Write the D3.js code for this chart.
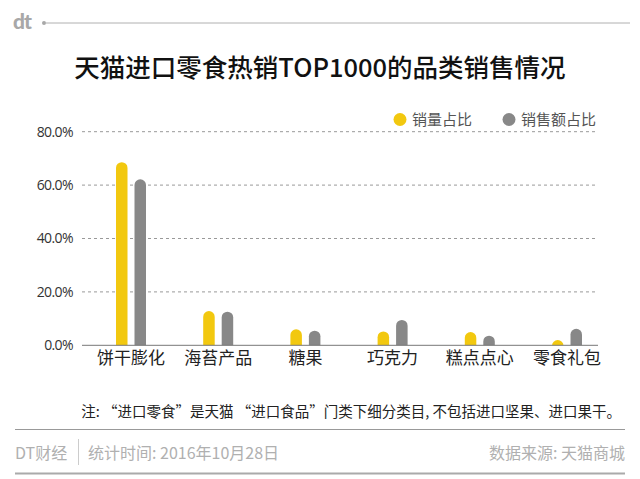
<!DOCTYPE html>
<html><head><meta charset="utf-8">
<script src="https://cdn.jsdelivr.net/npm/d3@7"></script>
<style>
html,body{margin:0;padding:0;background:#fff;}
svg{display:block;font-family:"Noto Sans CJK SC","Noto Sans",sans-serif;}
</style></head>
<body>
<svg id="c" width="640" height="479"></svg>
<script>
const categories = ["饼干膨化","海苔产品","糖果","巧克力","糕点点心","零食礼包"];
const seriesNames = ["销量占比","销售额占比"];
const salesVolume = [68.6, 12.8, 6.0, 5.2, 5.0, 2.0];
const salesAmount = [62.2, 12.6, 5.5, 9.5, 3.6, 6.2];
const yTicks = [0, 20, 40, 60, 80];
const colors = ["#F2C80F", "#888888"];

const svg = d3.select("#c");
const cjk = '"Noto Sans CJK SC",sans-serif';

// header
svg.append("text").attr("x", 13).attr("y", 29).text("dt")
  .attr("font-family", "Lato, 'DejaVu Sans', sans-serif").attr("font-weight", 900)
  .attr("font-size", 21).attr("fill", "#a8a8a8").attr("letter-spacing", -1);
svg.append("circle").attr("cx", 44).attr("cy", 23).attr("r", 2).attr("fill", "#a8a8a8");
svg.append("line").attr("x1", 46).attr("x2", 630).attr("y1", 23).attr("y2", 23)
  .attr("stroke", "#b0b0b0").attr("stroke-width", 1);

svg.append("text").attr("x", 320).attr("y", 77).attr("text-anchor", "middle")
  .attr("font-family", cjk).attr("font-size", 25.5).attr("font-weight", 500).attr("fill", "#111")
  .text("天猫进口零食热销TOP1000的品类销售情况");

// scales
const y = d3.scaleLinear().domain([0, 80]).range([345.3, 131.7]);
const x = d3.scaleBand().domain(categories).range([87.4, 610.6]).paddingInner(0).paddingOuter(0);
const xs = d3.scaleBand().domain(seriesNames).range([-15, 15]).paddingInner(0.378);

// grid
const gridX0 = 82, gridX1 = 598;
svg.append("g").selectAll("line").data(yTicks.filter(d => d > 0)).join("line")
  .attr("x1", gridX0).attr("x2", gridX1)
  .attr("y1", d => y(d)).attr("y2", d => y(d))
  .attr("stroke", "#999").attr("stroke-width", 1).attr("stroke-dasharray", "3,3");

// y axis labels via axis generator
const yAxis = d3.axisLeft(y).tickValues(yTicks).tickFormat(d => d.toFixed(1) + "%").tickSize(0).tickPadding(0);
const gy = svg.append("g").attr("transform", "translate(73,0)").call(yAxis);
gy.select(".domain").remove();
gy.selectAll("text").attr("font-family", "'Open Sans', 'Noto Sans', sans-serif")
  .attr("font-size", 14).attr("fill", "#333").attr("letter-spacing", -0.6);

// bars
const data = categories.map((c, i) => ({c, vals: [salesVolume[i], salesAmount[i]]}));
const bw = xs.bandwidth();
const g = svg.append("g");
data.forEach(d => {
  d.vals.forEach((v, j) => {
    const left = x(d.c) + x.bandwidth() / 2 + xs(seriesNames[j]);
    const top = y(v), bottom = y(0);
    const r = bw / 2;
    const p = `M${left},${bottom} V${top + r} A${r},${r} 0 0 1 ${left + bw},${top + r} V${bottom} Z`;
    g.append("path").attr("d", p).attr("fill", colors[j]);
  });
});

// baseline
svg.append("line").attr("x1", gridX0).attr("x2", gridX1).attr("y1", y(0)).attr("y2", y(0))
  .attr("stroke", "#777").attr("stroke-width", 1);

// x axis labels
const xAxis = d3.axisBottom(x).tickSize(0).tickPadding(0);
const gx = svg.append("g").attr("transform", `translate(0,${y(0) + 5})`).call(xAxis);
gx.select(".domain").remove();
gx.selectAll("text").attr("font-family", cjk).attr("font-size", 17).attr("fill", "#222").attr("dy", "0.8em");

// legend
const legend = [{x: 400, name: seriesNames[0], color: colors[0]}, {x: 509, name: seriesNames[1], color: colors[1]}];
legend.forEach(l => {
  svg.append("circle").attr("cx", l.x).attr("cy", 119.5).attr("r", 6.5).attr("fill", l.color);
  svg.append("text").attr("x", l.x + 12).attr("y", 125).attr("font-family", cjk)
    .attr("font-size", 15).attr("fill", "#555").text(l.name);
});

// note
svg.append("text").attr("x", 621).attr("y", 417).attr("text-anchor", "end")
  .attr("font-family", cjk).attr("font-size", 14.5).attr("fill", "#222")
  .text("注: “进口零食”是天猫 “进口食品”门类下细分类目, 不包括进口坚果、进口果干。");

// footer
svg.append("line").attr("x1", 15).attr("x2", 625).attr("y1", 429.5).attr("y2", 429.5)
  .attr("stroke", "#999").attr("stroke-width", 1);
svg.append("text").attr("x", 15).attr("y", 458.5).attr("font-family", cjk)
  .attr("font-size", 16).attr("fill", "#b0b0b0").text("DT财经");
svg.append("line").attr("x1", 78.5).attr("x2", 78.5).attr("y1", 439).attr("y2", 465)
  .attr("stroke", "#ccc").attr("stroke-width", 1);
svg.append("text").attr("x", 88).attr("y", 458.5).attr("font-family", cjk)
  .attr("font-size", 16).attr("fill", "#b0b0b0").text("统计时间: 2016年10月28日");
svg.append("text").attr("x", 625).attr("y", 458.5).attr("text-anchor", "end").attr("font-family", cjk)
  .attr("font-size", 16).attr("fill", "#b0b0b0").text("数据来源: 天猫商城");
svg.append("line").attr("x1", 15).attr("x2", 625).attr("y1", 473.5).attr("y2", 473.5)
  .attr("stroke", "#aaa").attr("stroke-width", 2);
</script>
</body></html>
